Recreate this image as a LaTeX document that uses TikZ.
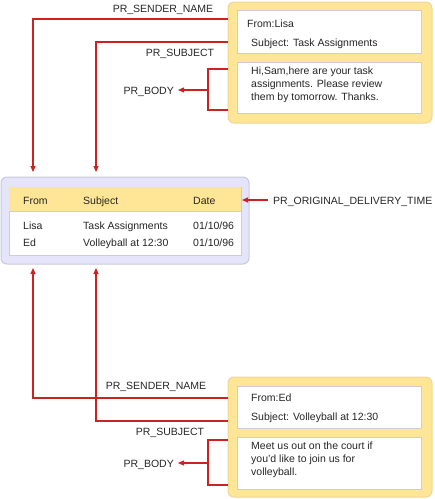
\documentclass[tikz,border=0pt]{standalone}
\usepackage{fontspec}
\setmainfont{Liberation Sans}
\usetikzlibrary{arrows.meta}
\definecolor{msgyellow}{RGB}{255,229,150}
\definecolor{msgborder}{RGB}{238,214,150}
\definecolor{lav}{RGB}{228,228,250}
\definecolor{lavborder}{RGB}{200,200,222}
\definecolor{hdr}{RGB}{255,229,150}
\definecolor{inborder}{RGB}{205,205,215}
\definecolor{conn}{RGB}{204,34,34}
\tikzset{
  x=1pt,y=-1pt,
  every node/.style={font=\fontsize{10.5}{13}\selectfont, inner sep=0pt, text=black!85},
  outerbox/.style={draw=msgborder, fill=msgyellow, rounded corners=6pt, line width=1pt},
  innerbox/.style={draw=inborder, fill=white, line width=0.8pt},
  tablebox/.style={draw=lavborder, fill=lav, rounded corners=6pt, line width=1pt},
  conline/.style={draw=conn, line width=1.1pt},
  conarrow/.style={conline, -{Triangle[length=6pt,width=5pt]}},
  lbl/.style={anchor=base west},
}
\begin{document}
\begin{tikzpicture}
\useasboundingbox (0,0) rectangle (435,499);
% top message
\path[outerbox] (228,2) rectangle (432,123);
\path[innerbox] (237,10) rectangle (421,53);
\path[innerbox] (237,62) rectangle (421,113);
\node[lbl] (f1) at (247,27) {From:Lisa};
\node[lbl] (s1) at (251,46) {Subject: Task Assignments};
\node[anchor=north west, align=left, font=\fontsize{10.5}{13}\selectfont] (b1) at (251,67) {Hi,Sam,here are your task\\assignments. Please review\\them by tomorrow. Thanks.};
\coordinate (t1) at (228,19);
\coordinate (t2) at (228,42);
\coordinate (t3a) at (228,69);
\coordinate (t3b) at (228,110);
\coordinate (t3m) at (208,90);
% table
\path[tablebox] (1,177) rectangle (249,264);
\path[fill=white, draw=inborder, line width=0.8pt] (9,187) rectangle (241,255);
\path[fill=hdr] (9.4,187.4) rectangle (240.6,211);
\draw[inborder, line width=0.8pt] (9,211) -- (241,211);
\node[lbl] (hf) at (23,204) {From};
\node[lbl] (hs) at (83,204) {Subject};
\node[lbl] (hd) at (193,204) {Date};
\node[lbl] at (23,229) {Lisa};
\node[lbl] at (83,229) {Task Assignments};
\node[lbl] at (193,229) {01/10/96};
\node[lbl] at (23,246) {Ed};
\node[lbl] at (83,246) {Volleyball at 12:30};
\node[lbl] at (193,246) {01/10/96};
\coordinate (tabS) at (33,172);
\coordinate (tabU) at (96,172);
\coordinate (tabS2) at (33,268);
\coordinate (tabU2) at (96,268);
\coordinate (tabR) at (242,200);
% bottom message
\path[outerbox] (228,377) rectangle (432,497);
\path[innerbox] (237,386) rectangle (421,428);
\path[innerbox] (237,437) rectangle (421,489);
\node[lbl] (f2) at (251,401) {From:Ed};
\node[lbl] (s2) at (251,420) {Subject: Volleyball at 12:30};
\node[anchor=north west, align=left, font=\fontsize{10.5}{13}\selectfont] (b2) at (251,442) {Meet us out on the court if\\you'd like to join us for\\volleyball.};
\coordinate (u1) at (228,398);
\coordinate (u2) at (228,421);
\coordinate (u3a) at (228,440);
\coordinate (u3b) at (228,485);
\coordinate (u3m) at (208,463);
% labels
\node[anchor=base] (lsn1) at (163,12) {PR\_SENDER\_NAME};
\node[anchor=base] (lsu1) at (180,56) {PR\_SUBJECT};
\node[anchor=base east] (lb1) at (174,94) {PR\_BODY};
\node[anchor=base west] (lodt) at (273,204) {PR\_ORIGINAL\_DELIVERY\_TIME};
\node[anchor=base] (lsn2) at (156,389) {PR\_SENDER\_NAME};
\node[anchor=base] (lsu2) at (170,435) {PR\_SUBJECT};
\node[anchor=base east] (lb2) at (174,467) {PR\_BODY};
\coordinate (odtStart) at (268,200);
% connectors
\draw[conarrow] (t1) -| (tabS);
\draw[conarrow] (t2) -| (tabU);
\draw[conline] (t3a) -| (t3m) |- (t3b);
\draw[conarrow] (t3m) -- ([xshift=4pt]lb1.east |- t3m);
\draw[conarrow] (odtStart) -- (tabR);
\draw[conarrow] (u1) -| (tabS2);
\draw[conarrow] (u2) -| (tabU2);
\draw[conline] (u3a) -| (u3m) |- (u3b);
\draw[conarrow] (u3m) -- ([xshift=4pt]lb2.east |- u3m);
\end{tikzpicture}
\end{document}
